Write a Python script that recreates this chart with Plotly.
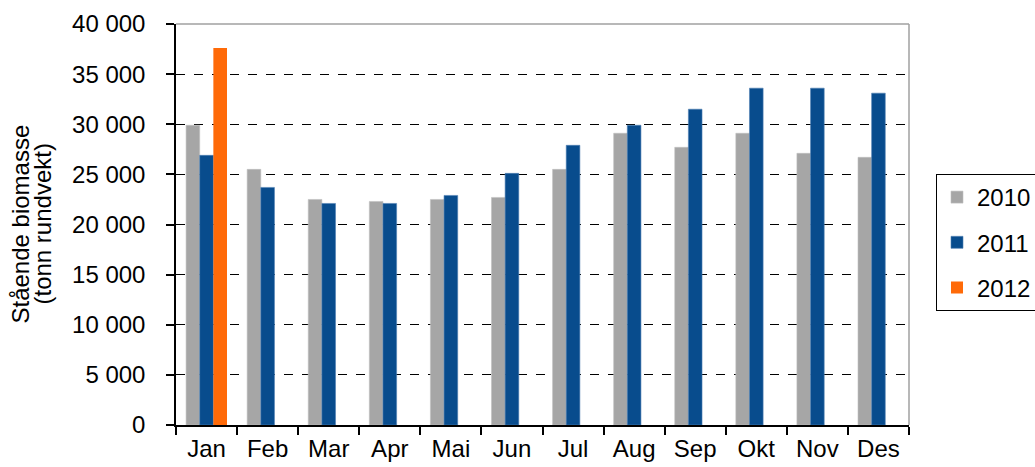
import plotly.graph_objects as go

months = ["Jan", "Feb", "Mar", "Apr", "Mai", "Jun", "Jul", "Aug", "Sep", "Okt", "Nov", "Des"]
v2010 = [29900, 25500, 22500, 22300, 22500, 22700, 25500, 29100, 27700, 29100, 27100, 26700]
v2011 = [26900, 23700, 22100, 22100, 22900, 25100, 27900, 29900, 31500, 33600, 33600, 33100]
v2012 = [37600, None, None, None, None, None, None, None, None, None, None, None]

FONT = "Arial, Liberation Sans, sans-serif"
FS = 24

L, R, T, B = 176, 126, 24, 42
W, H = 1035, 467
PW = W - L - R

fig = go.Figure()
fig.add_trace(go.Bar(x=months, y=v2010, name="2010", legendgroup="a",
                     marker=dict(color="#A6A6A6", line=dict(color="#BFBFBF", width=0.6))))
fig.add_trace(go.Bar(x=months, y=v2011, name="2011", legendgroup="b",
                     marker=dict(color="#084C8D", line=dict(color="#4F7FB3", width=0.6))))
fig.add_trace(go.Bar(x=months, y=v2012, name="2012", legendgroup="c",
                     marker=dict(color="#FF6A08", line=dict(color="#FF6A08", width=0))))

fig.update_layout(
    width=W, height=H,
    margin=dict(l=L, r=R, t=T, b=B, autoexpand=False),
    paper_bgcolor="white", plot_bgcolor="white",
    barmode="group", bargap=0.33, bargroupgap=0,
    separators=", ",
    font=dict(family=FONT, size=FS, color="black"),
    legend=dict(
        x=(936 - L) / PW, y=1 - (174 - T) / (H - T - B), xanchor="left", yanchor="top",
        bordercolor="black", borderwidth=1,
        font=dict(family=FONT, size=FS, color="black"),
        tracegroupgap=11, itemwidth=30,
    ),
    xaxis=dict(
        type="category", showline=True, linecolor="black", linewidth=1.5,
        ticks="outside", ticklen=8, tickcolor="black", tickwidth=1.5,
        tickson="boundaries", showgrid=False,
        tickfont=dict(family=FONT, size=FS),
        ticklabelstandoff=1,
    ),
    yaxis=dict(
        range=[0, 40000], dtick=5000, tickformat=",d",
        showline=True, linecolor="black", linewidth=1.5,
        ticks="outside", ticklen=8, tickcolor="black", tickwidth=1.5,
        showgrid=True, gridcolor="black", griddash="dash", gridwidth=1.3,
        zeroline=False,
        tickfont=dict(family=FONT, size=FS),
        ticklabelstandoff=16,
    ),
)

# y-axis title as two tightly spaced rotated lines
for txt, px in [("Stående biomasse", 20), ("(tonn rundvekt)", 42)]:
    fig.add_annotation(text=txt, textangle=-90, xref="paper", yref="paper",
                       x=(px - L) / PW, y=0.5, xanchor="center", yanchor="middle",
                       showarrow=False, font=dict(family=FONT, size=FS, color="black"))

# plot-area border (top and right) in grey
fig.add_shape(type="line", xref="x domain", yref="y domain", x0=0, x1=1, y0=1, y1=1,
              line=dict(color="#A0A0A0", width=1.5))
fig.add_shape(type="line", xref="x domain", yref="y domain", x0=1, x1=1, y0=0, y1=1,
              line=dict(color="#A0A0A0", width=1.5))

fig.write_html("out.html", config={"displayModeBar": False},
               post_script="document.body.style.margin='0';document.body.style.overflow='hidden';")
